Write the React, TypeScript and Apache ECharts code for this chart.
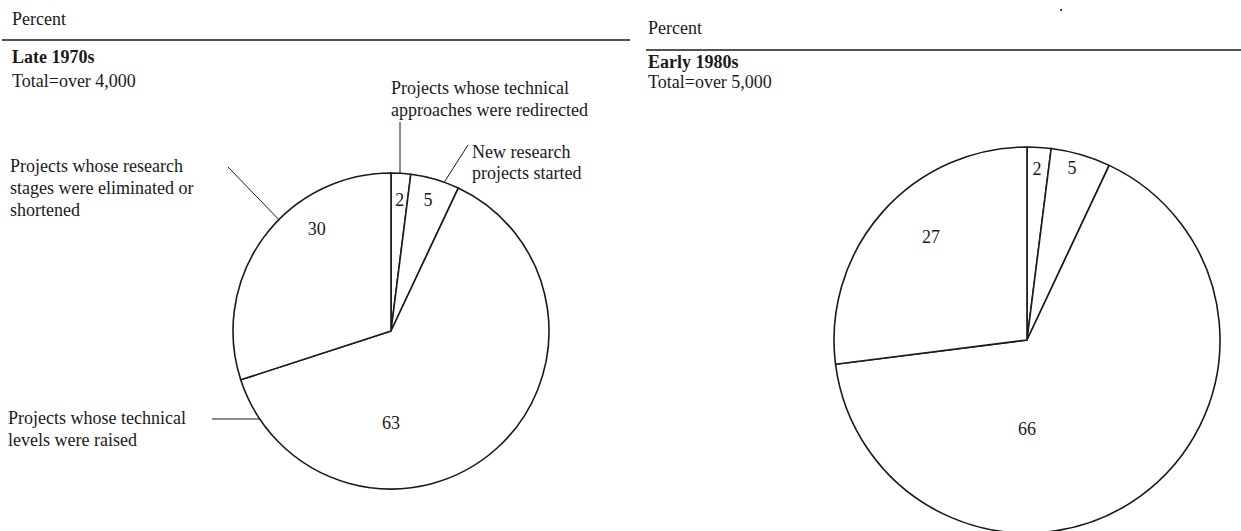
import React, { useEffect, useRef } from "react";
import * as echarts from "echarts";

// ---- Data ----
const categories = [
  "Projects whose technical approaches were redirected",
  "New research projects started",
  "Projects whose technical levels were raised",
  "Projects whose research stages were eliminated or shortened",
];
const late1970sValues = [2, 5, 63, 30];
const early1980sValues = [2, 5, 66, 27];
const panelTitles = ["Late 1970s", "Early 1980s"];
const panelTotals = ["Total=over 4,000", "Total=over 5,000"];
const unitLabel = "Percent";

// ---- Styles / layout (not data) ----
const FONT = "'Liberation Serif', 'DejaVu Serif', serif";
const INK = "#1a1a1a";
const FS = 18;
// label placement per slice: [angle clockwise from top (deg), fraction of radius]
const leftLabelPos = [[3.8, 0.83], [15.8, 0.86], [180, 0.58], [324, 0.8]];
const rightLabelPos = [[3.3, 0.89], [14.7, 0.92], [180, 0.46], [317, 0.73]];
const leftPie = { cx: 391, cy: 331, r: 158 };
const rightPie = { cx: 1027, cy: 340, r: 193 };

function makeSeries(values: number[], pie: { cx: number; cy: number; r: number }, pos: number[][]) {
  return {
    type: "pie",
    center: [pie.cx, pie.cy],
    radius: pie.r,
    startAngle: 90,
    clockwise: true,
    silent: true,
    avoidLabelOverlap: false,
    itemStyle: { color: "#ffffff", borderColor: INK, borderWidth: 1.6 },
    label: {
      show: true,
      position: "inside",
      formatter: "{c}",
      fontFamily: FONT,
      fontSize: FS,
      color: INK,
    },
    labelLine: { show: false },
    labelLayout: (params: any) => {
      const p = pos[params.dataIndex];
      const a = (p[0] * Math.PI) / 180;
      return {
        x: pie.cx + p[1] * pie.r * Math.sin(a),
        y: pie.cy - p[1] * pie.r * Math.cos(a),
        align: "center",
        verticalAlign: "middle",
      };
    },
    data: values.map((v, i) => ({ name: categories[i], value: v })),
  };
}

function txt(text: string, x: number, y: number, bold = false) {
  return {
    type: "text",
    x,
    y,
    silent: true,
    style: {
      text,
      fill: INK,
      font: `${bold ? "bold " : ""}${FS}px ${FONT}`,
      verticalAlign: "middle",
      align: "left",
    },
  };
}

function ln(x1: number, y1: number, x2: number, y2: number, w = 1) {
  return {
    type: "line",
    silent: true,
    shape: { x1, y1, x2, y2 },
    style: { stroke: INK, lineWidth: w },
  };
}

export default function App() {
  const ref = useRef<HTMLDivElement>(null);
  useEffect(() => {
    if (!ref.current) return;
    const chart = echarts.init(ref.current, undefined, { renderer: "svg" });
    chart.setOption({
      animation: false,
      backgroundColor: "#ffffff",
      series: [
        makeSeries(late1970sValues, leftPie, leftLabelPos),
        makeSeries(early1980sValues, rightPie, rightLabelPos),
      ],
      graphic: [
        // left panel header
        txt(unitLabel, 12, 19),
        ln(2, 40, 630, 40, 1.3),
        txt(panelTitles[0], 12, 57, true),
        txt(panelTotals[0], 12, 81),
        // left annotations
        txt("Projects whose technical", 391, 88),
        txt("approaches were redirected", 391, 110),
        txt("New research", 472, 152),
        txt("projects started", 472, 173),
        txt("Projects whose research", 10, 166),
        txt("stages were eliminated or", 10, 188),
        txt("shortened", 10, 210),
        txt("Projects whose technical", 8, 418),
        txt("levels were raised", 8, 440),
        ln(400, 122, 400, 184),
        ln(468, 145, 438, 192),
        ln(228, 167, 286, 227),
        ln(212, 419, 276, 419),
        // right panel header
        txt(unitLabel, 648, 28),
        ln(646, 50, 1241, 50, 1.3),
        txt(panelTitles[1], 648, 62, true),
        txt(panelTotals[1], 648, 82),
        { type: "circle", silent: true, shape: { cx: 1061, cy: 10, r: 1 }, style: { fill: INK } },
      ],
    });
    return () => chart.dispose();
  }, []);
  return (
    <div
      ref={ref}
      style={{ position: "fixed", left: 0, top: 0, width: 1241, height: 531, background: "#fff" }}
    />
  );
}
